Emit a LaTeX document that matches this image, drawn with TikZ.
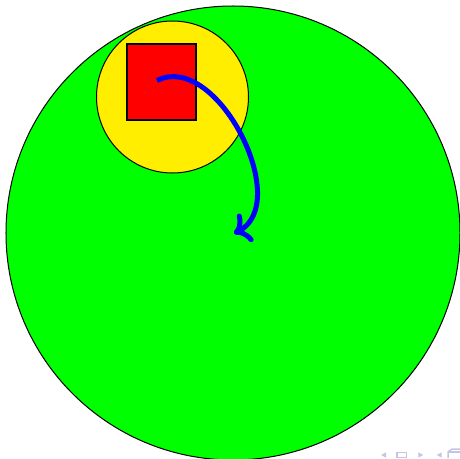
\documentclass[tikz,border=0pt]{standalone}
\usetikzlibrary{arrows.meta}
\definecolor{myyellow}{RGB}{255,238,0}
\definecolor{navcol}{RGB}{196,196,228}
\tikzset{
  disc/.style={circle, draw=black, line width=0.4pt, inner sep=0pt},
  redbox/.style={rectangle, draw=black, fill=red, line width=0.8pt, inner sep=0pt},
  bluearrow/.style={->, blue, line width=2pt},
  navsym/.style={fill=navcol, draw=none}
}
\begin{document}
\begin{tikzpicture}[x=0.4pt, y=-0.4pt]
\useasboundingbox (0,0) rectangle (459,459);
\node[disc, fill=green, minimum size=181.6pt] (big) at (233,233) {};
\node[disc, fill=myyellow, minimum size=60.8pt] (small) at (172.5,97) {};
\node[redbox, minimum width=27.6pt, minimum height=30.4pt] (box) at (161.2,81.8) {};
\coordinate (start) at (157,80.5);
\coordinate (end) at (234,233.5);
\draw[bluearrow] (start) to[bend left=90] (end);
% navigation symbols
\fill[navsym] (381.2,455) -- (386,452.3) -- (386,457.7) -- cycle;
\draw[navcol, line width=0.6pt] (397,452.5) rectangle (406.5,457.5);
\fill[navsym] (423.2,455) -- (418.3,452.3) -- (418.3,457.7) -- cycle;
\fill[navsym] (436.8,455) -- (441.7,452.3) -- (441.7,457.7) -- cycle;
\draw[navcol, line width=0.6pt] (448,458) -- (448,452) -- (452,449) -- (460,449);
\draw[navcol, line width=0.6pt] (448,452) -- (460,452);
\end{tikzpicture}
\end{document}
